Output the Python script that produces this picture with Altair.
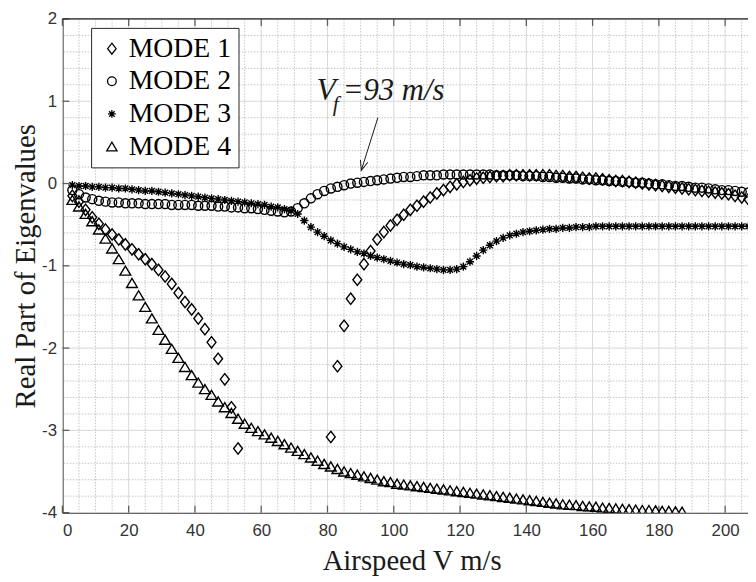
import altair as alt
import pandas as pd

# ---------------- data ----------------
speed_all = list(range(3, 208, 2))          # 3..207 m/s
speed_m1a = list(range(3, 54, 2))           # 3..53
speed_m1b = list(range(81, 208, 2))         # 81..207
speed_m4 = list(range(3, 188, 2))           # 3..187

mode1_a = [-0.15, -0.22, -0.32, -0.41, -0.49, -0.56, -0.62, -0.68, -0.74, -0.80,
           -0.86, -0.92, -0.98, -1.05, -1.13, -1.22, -1.33, -1.44, -1.53, -1.64,
           -1.77, -1.93, -2.13, -2.38, -2.72, -3.22]
mode1_b = [-3.08, -2.22, -1.73, -1.40, -1.17, -0.98, -0.82, -0.68, -0.59, -0.51,
           -0.44, -0.38, -0.32, -0.27, -0.22, -0.17, -0.12, -0.08, -0.04, -0.01,
           0.02, 0.04, 0.06,
           0.07, 0.08, 0.09, 0.09, 0.10, 0.10, 0.10, 0.10, 0.10, 0.10,
           0.10, 0.09, 0.09, 0.08, 0.08, 0.07, 0.06, 0.06, 0.05, 0.04,
           0.03, 0.03, 0.02, 0.01, 0.00, -0.01, -0.02, -0.03, -0.04, -0.05,
           -0.06, -0.07, -0.08, -0.09, -0.10, -0.11, -0.12, -0.13, -0.15, -0.17,
           -0.19]
mode2 = [-0.08, -0.13, -0.17, -0.19, -0.21, -0.22, -0.23, -0.23, -0.24, -0.24,
         -0.24, -0.25, -0.25, -0.25, -0.25, -0.26, -0.26, -0.26, -0.26, -0.27,
         -0.27, -0.27, -0.28, -0.28, -0.29, -0.29, -0.30, -0.30, -0.31, -0.32,
         -0.33, -0.34, -0.35, -0.34, -0.30, -0.24, -0.18, -0.13, -0.09, -0.06,
         -0.04, -0.02, 0.00, 0.01, 0.02, 0.03, 0.04, 0.05, 0.06, 0.07,
         0.08, 0.08, 0.09, 0.10, 0.10, 0.10, 0.11, 0.11, 0.11, 0.11,
         0.11, 0.11, 0.11,
         0.11, 0.10, 0.10, 0.10, 0.10, 0.09, 0.09, 0.09, 0.08, 0.08,
         0.07, 0.07, 0.06, 0.06, 0.05, 0.05, 0.04, 0.04, 0.03, 0.03,
         0.02, 0.02, 0.01, 0.01, 0.00, -0.01, -0.01, -0.02, -0.03, -0.03,
         -0.04, -0.05, -0.05, -0.06, -0.07, -0.08, -0.08, -0.09, -0.10, -0.11]
mode3 = [-0.02, -0.03, -0.03, -0.04, -0.04, -0.05, -0.05, -0.06, -0.06, -0.07,
         -0.08, -0.09, -0.09, -0.10, -0.11, -0.12, -0.13, -0.14, -0.15, -0.16,
         -0.17, -0.18, -0.19, -0.20, -0.21, -0.22, -0.23, -0.24, -0.25, -0.26,
         -0.28, -0.29, -0.31, -0.33, -0.37, -0.45, -0.53, -0.59, -0.64, -0.69,
         -0.73, -0.77, -0.80, -0.83, -0.85, -0.88, -0.90, -0.92, -0.94, -0.96,
         -0.98, -0.99, -1.01, -1.02, -1.03, -1.04, -1.05, -1.05, -1.04, -1.01,
         -0.95, -0.88, -0.81, -0.75, -0.70, -0.66, -0.63, -0.61, -0.59, -0.58,
         -0.57, -0.56, -0.55, -0.55, -0.54, -0.54, -0.53, -0.53, -0.53, -0.52,
         -0.52, -0.52, -0.52, -0.52, -0.52, -0.52, -0.52, -0.52, -0.52, -0.52,
         -0.52, -0.52, -0.52, -0.52, -0.52, -0.52, -0.52, -0.52, -0.52, -0.52,
         -0.52, -0.52, -0.52]
mode4 = [-0.20, -0.28, -0.37, -0.46, -0.56, -0.67, -0.79, -0.92, -1.06, -1.21,
         -1.36, -1.50, -1.64, -1.78, -1.90, -2.01, -2.12, -2.23, -2.33, -2.42,
         -2.50, -2.57, -2.65, -2.72, -2.79, -2.86, -2.92, -2.97, -3.01, -3.05,
         -3.09, -3.13, -3.17, -3.21, -3.25, -3.29, -3.33, -3.37, -3.41, -3.44,
         -3.47, -3.50, -3.52, -3.54, -3.56, -3.58, -3.60, -3.62, -3.63, -3.65,
         -3.66, -3.67, -3.68, -3.69, -3.70, -3.71, -3.72, -3.73, -3.74, -3.75,
         -3.76, -3.77, -3.78, -3.79, -3.80, -3.81, -3.82, -3.83, -3.84, -3.85,
         -3.86, -3.87, -3.88, -3.89, -3.90, -3.905, -3.91, -3.92, -3.925, -3.93,
         -3.94, -3.945, -3.95, -3.955, -3.96, -3.965, -3.97, -3.97, -3.975, -3.98,
         -3.98, -3.985, -3.99]

mode_names = ["MODE 1", "MODE 2", "MODE 3", "MODE 4"]
x_ticks = [0, 20, 40, 60, 80, 100, 120, 140, 160, 180, 200]
y_ticks = [-4, -3, -2, -1, 0, 1, 2]
x_minor = [v for v in range(0, 210, 5) if v % 20 != 0]
y_minor = [round(-4 + 0.2 * i, 1) for i in range(31) if (i % 5) != 0]

ann_text = ["V", "f", "=93 m/s"]
ann_x = [76.7, 81.6, 84.6]
ann_y = [1.02, 0.88, 1.02]
ann_size = [32, 22, 31]
arrow_x = [95.2]
arrow_y = [0.80]
arrow_x2 = [90.2]
arrow_y2 = [0.16]

# ---------------- frames ----------------
rows = []
for v, y in zip(speed_m1a, mode1_a):
    rows.append({"V": v, "Re": y, "mode": "MODE 1"})
for v, y in zip(speed_m1b, mode1_b):
    rows.append({"V": v, "Re": y, "mode": "MODE 1"})
for v, y in zip(speed_all, mode2):
    rows.append({"V": v, "Re": y, "mode": "MODE 2"})
for v, y in zip(speed_all, mode3):
    rows.append({"V": v, "Re": y, "mode": "MODE 3"})
for v, y in zip(speed_m4, mode4):
    rows.append({"V": v, "Re": y, "mode": "MODE 4"})
df = pd.DataFrame(rows)

X_DOM = [0, 206.9]
Y_DOM = [-4, 2]
W, H = 693, 499
xs = alt.Scale(domain=X_DOM, nice=False, zero=False)
ys = alt.Scale(domain=Y_DOM, nice=False, zero=False)

AXIS_COL = "#262626"
SERIF = "Liberation Serif"

# grid
gx_minor = alt.Chart(pd.DataFrame({"v": x_minor})).mark_rule(
    color="#c4c4c4", strokeWidth=1, strokeDash=[1.5, 1.5]).encode(x=alt.X("v:Q", scale=xs))
gy_minor = alt.Chart(pd.DataFrame({"v": y_minor})).mark_rule(
    color="#c4c4c4", strokeWidth=1, strokeDash=[1.5, 1.5]).encode(y=alt.Y("v:Q", scale=ys))
gx_major = alt.Chart(pd.DataFrame({"v": x_ticks})).mark_rule(
    color="#d8d8d8", strokeWidth=1).encode(x=alt.X("v:Q", scale=xs))
gy_major = alt.Chart(pd.DataFrame({"v": y_ticks})).mark_rule(
    color="#d8d8d8", strokeWidth=1).encode(y=alt.Y("v:Q", scale=ys))

# inward ticks
tick_bottom = alt.Chart(pd.DataFrame({"v": x_ticks})).mark_tick(
    orient="vertical", size=7, thickness=1.3, color=AXIS_COL).encode(
    x=alt.X("v:Q", scale=xs), y=alt.value(H - 3.5))
tick_top = alt.Chart(pd.DataFrame({"v": x_ticks})).mark_tick(
    orient="vertical", size=7, thickness=1.3, color=AXIS_COL).encode(
    x=alt.X("v:Q", scale=xs), y=alt.value(3.5))
tick_left = alt.Chart(pd.DataFrame({"v": y_ticks})).mark_tick(
    orient="horizontal", size=7, thickness=1.3, color=AXIS_COL).encode(
    y=alt.Y("v:Q", scale=ys), x=alt.value(3.5))
top_border = alt.Chart(pd.DataFrame({"v": [0]})).mark_rule(
    color=AXIS_COL, strokeWidth=1.3).encode(
    y=alt.value(0), x=alt.value(0), x2=alt.value(W))

# marker shapes drawn inside a common [-1,1] box
diamond = "M0,-1L0.78,0L0,1L-0.78,0Z"
circle = "M-0.8,0A0.8,0.8 0 1,0 0.8,0A0.8,0.8 0 1,0 -0.8,0Z"
asterisk = ("M-0.72,0L0.72,0M0,-0.72L0,0.72M-0.51,-0.51L0.51,0.51"
            "M-0.51,0.51L0.51,-0.51")
triangle = "M0,-0.82L0.95,0.78L-0.95,0.78Z"
shape_scale = alt.Scale(domain=mode_names, range=[diamond, circle, asterisk, triangle])

points = alt.Chart(df).mark_point(filled=False, color="black", strokeWidth=1.4,
                                  size=132, opacity=1, clip=True).encode(
    x=alt.X("V:Q", scale=xs, axis=alt.Axis(
        values=x_ticks, grid=False, ticks=False, labelPadding=10,
        labelFont="Liberation Sans", labelFontSize=17, labelColor="#333333",
        domainColor=AXIS_COL, domainWidth=1.3,
        title="Airspeed V m/s", titleFont=SERIF, titleFontSize=29,
        titleFontWeight="normal", titleColor="#1a1a1a",
        titleBaseline="alphabetic", titleY=57, titleX=353, titleAlign="center")),
    y=alt.Y("Re:Q", scale=ys, axis=alt.Axis(
        values=y_ticks, grid=False, ticks=False, labelPadding=6,
        labelExpr="'' + datum.value",
        labelFont="Liberation Sans", labelFontSize=17, labelColor="#333333",
        domainColor=AXIS_COL, domainWidth=1.3,
        title="Real Part of Eigenvalues", titleFont=SERIF, titleFontSize=29,
        titleFontWeight="normal", titleColor="#1a1a1a", titleAngle=-90,
        titleBaseline="alphabetic", titleX=-28, titleY=H / 2, titleAlign="center")),
    shape=alt.Shape("mode:N", scale=shape_scale, legend=alt.Legend(
        title=None, orient="none", legendX=29, legendY=9,
        labelFont=SERIF, labelFontSize=28, labelColor="black",
        labelOffset=3, rowPadding=5, padding=7,
        symbolSize=121, symbolStrokeWidth=1.3, symbolStrokeColor="black",
        symbolFillColor="white",
        strokeColor=AXIS_COL, fillColor="white")),
)

ann_df = pd.DataFrame({"t": ann_text, "x": ann_x, "y": ann_y, "s": ann_size})
ann = alt.Chart(ann_df).mark_text(font=SERIF, fontStyle="italic", align="left",
                                  baseline="alphabetic", color="#1a1a1a").encode(
    x=alt.X("x:Q", scale=xs), y=alt.Y("y:Q", scale=ys), text="t:N",
    size=alt.Size("s:Q", scale=None, legend=None))

arr_df = pd.DataFrame({"x": arrow_x, "y": arrow_y, "x2": arrow_x2, "y2": arrow_y2})
arrow_line = alt.Chart(arr_df).mark_rule(color="#1a1a1a", strokeWidth=1).encode(
    x=alt.X("x:Q", scale=xs), y=alt.Y("y:Q", scale=ys), x2="x2:Q", y2="y2:Q")
arrow_head = alt.Chart(arr_df).mark_point(
    shape="M-0.4,-1L0,0L0.4,-1", filled=False, color="#1a1a1a", strokeWidth=1,
    size=380, angle=17, opacity=1).encode(
    x=alt.X("x2:Q", scale=xs), y=alt.Y("y2:Q", scale=ys))

chart = alt.layer(
    gx_minor, gy_minor, gx_major, gy_major,
    tick_bottom, tick_top, tick_left, top_border,
    points, ann, arrow_line, arrow_head,
).properties(
    width=W, height=H,
    autosize=alt.AutoSizeParams(type="none"),
    padding={"left": 55, "top": 8, "right": 0, "bottom": 66},
).configure_view(stroke=None).configure(background="white")

chart.save("out.html", embed_options={"renderer": "svg", "actions": False})
